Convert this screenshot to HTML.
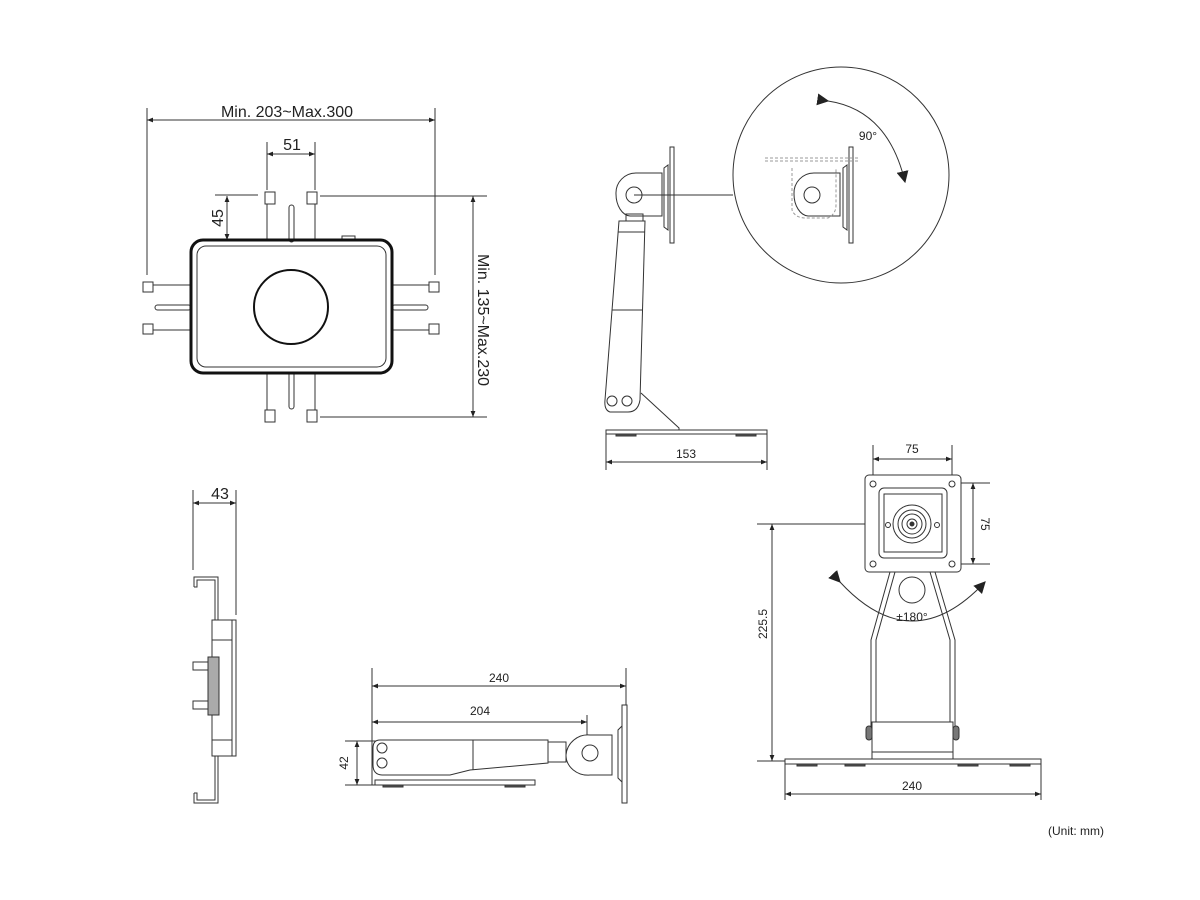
<!DOCTYPE html>
<html><head><meta charset="utf-8"><style>
html,body{margin:0;padding:0;background:#fff;}
svg{display:block}
text{font-family:"Liberation Sans",sans-serif;fill:#222}
</style></head><body>
<svg width="1200" height="900" viewBox="0 0 1200 900" xmlns="http://www.w3.org/2000/svg">
<defs>
<marker id="a" viewBox="0 0 10 10" refX="10" refY="5" markerWidth="8" markerHeight="6" orient="auto-start-reverse" markerUnits="userSpaceOnUse"><path d="M0,1 L10,5 L0,9 z" fill="#222"/></marker>
<marker id="b" viewBox="0 0 10 10" refX="9" refY="5" markerWidth="12" markerHeight="12" orient="auto" markerUnits="userSpaceOnUse"><path d="M0,0 L10,5 L0,10 z" fill="#222"/></marker>
</defs>
<g stroke="#333" stroke-width="1" fill="none">
<line x1="147" y1="108" x2="147" y2="275"/><line x1="435" y1="108" x2="435" y2="275"/>
<line x1="147" y1="120" x2="435" y2="120" marker-start="url(#a)" marker-end="url(#a)"/>
<line x1="267" y1="142" x2="267" y2="190"/><line x1="315" y1="142" x2="315" y2="190"/>
<line x1="267" y1="154" x2="315" y2="154" marker-start="url(#a)" marker-end="url(#a)"/>
<line x1="215" y1="195" x2="258" y2="195"/>
<line x1="227" y1="196" x2="227" y2="240" marker-start="url(#a)" marker-end="url(#a)"/>
<line x1="320" y1="196" x2="487" y2="196"/><line x1="320" y1="417" x2="487" y2="417"/>
<line x1="473" y1="196" x2="473" y2="417" marker-start="url(#a)" marker-end="url(#a)"/>
<path d="M267,196 V240 M315,196 V240 M267,372 V416 M315,372 V416 M143,285 H191 M143,330 H191 M392,285 H439 M392,330 H439"/>
<rect x="265" y="192" width="10" height="12" fill="#fff"/><rect x="307" y="192" width="10" height="12" fill="#fff"/>
<rect x="265" y="410" width="10" height="12" fill="#fff"/><rect x="307" y="410" width="10" height="12" fill="#fff"/>
<rect x="143" y="282" width="10" height="10" fill="#fff"/><rect x="143" y="324" width="10" height="10" fill="#fff"/>
<rect x="429" y="282" width="10" height="10" fill="#fff"/><rect x="429" y="324" width="10" height="10" fill="#fff"/>
<rect x="289" y="205" width="5" height="37" rx="2.5"/><rect x="289" y="372" width="5" height="37" rx="2.5"/>
<rect x="155" y="305" width="36" height="5" rx="2.5"/><rect x="392" y="305" width="36" height="5" rx="2.5"/>
<path d="M342,240 V236 H355 V240"/>
<rect x="191" y="240" width="201" height="133" rx="12" stroke="#111" stroke-width="3"/>
<rect x="197" y="246" width="189" height="121" rx="9"/>
<circle cx="291" cy="307" r="37" stroke="#111" stroke-width="2"/>

<rect x="670" y="147" width="4" height="96" fill="#fff"/>
<path d="M664,168 L668,165 V230 L664,227 z"/>
<path d="M662,173 V216 H630 A15,22 0 0 1 616,194 A20,20 0 0 1 636,173 z" fill="#fff"/>
<circle cx="634" cy="195" r="8"/>
<line x1="634" y1="195" x2="733" y2="195"/>
<path d="M626,214 H643 V221 H626 z"/>
<path d="M619,221 H645 L640,400 Q638,412 628,412 H610 Q604,410 605,400 z" fill="#fff"/>
<line x1="618" y1="232" x2="645" y2="232"/><line x1="612" y1="310" x2="642" y2="310"/>
<circle cx="612" cy="401" r="5"/><circle cx="627" cy="401" r="5"/>
<path d="M641,393 L679,428 V432"/>
<rect x="606" y="430" width="161" height="4" fill="#fff"/>
<rect x="616" y="434" width="20" height="2" fill="#555"/><rect x="736" y="434" width="20" height="2" fill="#555"/>
<line x1="606" y1="434" x2="606" y2="470"/><line x1="767" y1="434" x2="767" y2="470"/>
<line x1="606" y1="462" x2="767" y2="462" marker-start="url(#a)" marker-end="url(#a)"/>
<circle cx="841" cy="175" r="108"/>
<rect x="849" y="147" width="4" height="96" fill="#fff"/>
<path d="M843,168 L847,165 V230 L843,227 z"/>
<path d="M840,173 V216 H808 A15,22 0 0 1 794,194 A20,20 0 0 1 814,173 z" fill="#fff"/>
<circle cx="812" cy="195" r="8"/>
<g stroke="#999" stroke-dasharray="3,2"><line x1="765" y1="158" x2="860" y2="158"/><line x1="765" y1="161" x2="860" y2="161"/><path d="M792,168 V210 Q795,218 806,218 H828 Q836,214 836,205 V168"/></g>
<path d="M828,101 Q888,110 905,182" marker-start="url(#b)" marker-end="url(#b)"/>

<line x1="193" y1="490" x2="193" y2="570"/><line x1="236" y1="490" x2="236" y2="615"/>
<line x1="193" y1="503" x2="236" y2="503" marker-start="url(#a)" marker-end="url(#a)"/>
<path d="M194,587 V577 H218 V620 M194,587 H197 V580 H215 V620"/>
<path d="M194,793 V803 H218 V755 M194,793 H197 V800 H215 V755"/>
<rect x="212" y="620" width="24" height="136" fill="#fff"/>
<rect x="212" y="620" width="20" height="136"/>
<line x1="212" y1="640" x2="232" y2="640"/><line x1="212" y1="740" x2="232" y2="740"/>
<rect x="208" y="657" width="11" height="58" fill="#aaa"/>
<rect x="193" y="662" width="15" height="8"/><rect x="193" y="701" width="15" height="8"/>

<line x1="372" y1="668" x2="372" y2="785"/><line x1="626" y1="668" x2="626" y2="705"/>
<line x1="372" y1="686" x2="626" y2="686" marker-start="url(#a)" marker-end="url(#a)"/>
<line x1="587" y1="715" x2="587" y2="750"/>
<line x1="372" y1="722" x2="587" y2="722" marker-start="url(#a)" marker-end="url(#a)"/>
<line x1="345" y1="741" x2="378" y2="741"/><line x1="345" y1="785" x2="378" y2="785"/>
<line x1="357" y1="741" x2="357" y2="785" marker-start="url(#a)" marker-end="url(#a)"/>
<rect x="375" y="780" width="160" height="5" fill="#fff"/>
<rect x="383" y="785" width="20" height="2" fill="#555"/><rect x="505" y="785" width="20" height="2" fill="#555"/>
<path d="M380,740 H548 V763 L470,770 L450,775 H383 Q373,775 373,765 V748 Q373,740 380,740 z" fill="#fff"/>
<line x1="473" y1="740" x2="473" y2="770"/><line x1="548" y1="740" x2="548" y2="763"/>
<path d="M548,742 H566 V762 H548"/>
<path d="M612,735 V775 H590 A22,20 0 0 1 566,755 A22,22 0 0 1 590,735 z" fill="#fff"/>
<circle cx="590" cy="753" r="8"/>
<rect x="622" y="705" width="5" height="98" fill="#fff"/>
<path d="M618,730 L622,726 V782 L618,778 z"/>
<circle cx="382" cy="748" r="5"/><circle cx="382" cy="763" r="5"/>

<line x1="873" y1="445" x2="873" y2="480"/><line x1="952" y1="445" x2="952" y2="480"/>
<line x1="873" y1="459" x2="952" y2="459" marker-start="url(#a)" marker-end="url(#a)"/>
<line x1="957" y1="483" x2="990" y2="483"/><line x1="957" y1="564" x2="990" y2="564"/>
<line x1="973" y1="483" x2="973" y2="564" marker-start="url(#a)" marker-end="url(#a)"/>
<line x1="757" y1="524" x2="905" y2="524"/><line x1="757" y1="761" x2="790" y2="761"/>
<line x1="772" y1="524" x2="772" y2="761" marker-start="url(#a)" marker-end="url(#a)"/>
<path d="M890,572 L871,640 V735 M895,572 L876,640 V735 M935,572 L955,640 V735 M930,572 L950,640 V735"/>
<circle cx="912" cy="590" r="13"/>
<path d="M840,582 Q912,660 985,582" marker-start="url(#b)" marker-end="url(#b)"/>
<rect x="865" y="475" width="96" height="97" rx="4" fill="#fff"/>
<rect x="879" y="488" width="68" height="70" rx="5"/>
<rect x="884" y="494" width="58" height="58"/>
<circle cx="912" cy="524" r="19"/><circle cx="912" cy="524" r="14"/><circle cx="912" cy="524" r="10"/><circle cx="912" cy="524" r="5"/><circle cx="912" cy="524" r="2" fill="#333"/>
<circle cx="888" cy="525" r="2.5"/><circle cx="937" cy="525" r="2.5"/>
<circle cx="873" cy="484" r="3"/><circle cx="952" cy="484" r="3"/><circle cx="873" cy="564" r="3"/><circle cx="952" cy="564" r="3"/>
<rect x="872" y="722" width="81" height="37" fill="#fff"/><line x1="872" y1="752" x2="953" y2="752"/>
<rect x="866" y="726" width="6" height="14" rx="3" fill="#777"/><rect x="953" y="726" width="6" height="14" rx="3" fill="#777"/>
<rect x="785" y="759" width="256" height="5" fill="#fff"/>
<rect x="797" y="764" width="20" height="2" fill="#555"/><rect x="845" y="764" width="20" height="2" fill="#555"/><rect x="958" y="764" width="20" height="2" fill="#555"/><rect x="1010" y="764" width="20" height="2" fill="#555"/>
<line x1="785" y1="764" x2="785" y2="800"/><line x1="1041" y1="764" x2="1041" y2="800"/>
<line x1="785" y1="794" x2="1041" y2="794" marker-start="url(#a)" marker-end="url(#a)"/>
</g>
<g font-size="16" text-anchor="middle">
<text x="287" y="117">Min. 203~Max.300</text>
<text x="292" y="150">51</text>
<text transform="translate(223,218) rotate(-90)">45</text>
<text transform="translate(478,320) rotate(90)">Min. 135~Max.230</text>
<text x="220" y="499">43</text>
</g>
<g font-size="12" text-anchor="middle">
<text x="686" y="458">153</text>
<text x="868" y="140">90°</text>
<text x="912" y="453">75</text>
<text transform="translate(981,524) rotate(90)">75</text>
<text transform="translate(767,624) rotate(-90)">225.5</text>
<text x="912" y="621">±180°</text>
<text x="912" y="790">240</text>
<text x="499" y="682">240</text>
<text x="480" y="715">204</text>
<text transform="translate(348,763) rotate(-90)">42</text>
<text x="1076" y="835">(Unit: mm)</text>
</g>
</svg>
</body></html>
